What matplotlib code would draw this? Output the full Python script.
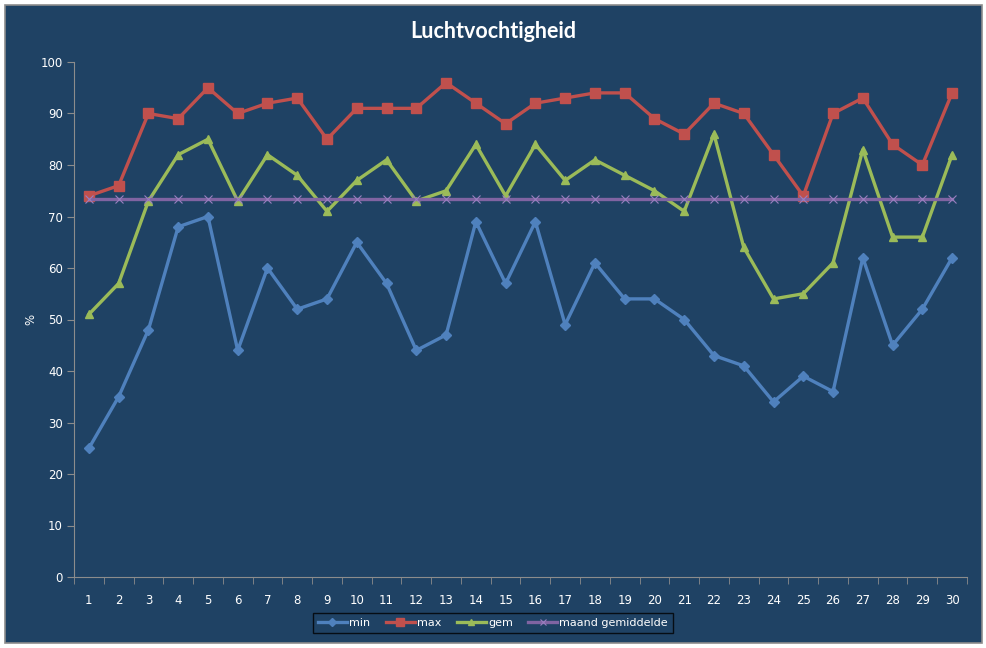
import numpy as np
import matplotlib
matplotlib.use("Agg")
import matplotlib.pyplot as plt
from matplotlib.patches import Rectangle

# data (relative humidity per day)
days = list(range(1, 31))
hum_min = [25, 35, 48, 68, 70, 44, 60, 52, 54, 65, 57, 44, 47, 69, 57,
           69, 49, 61, 54, 54, 50, 43, 41, 34, 39, 36, 62, 45, 52, 62]
hum_max = [74, 76, 90, 89, 95, 90, 92, 93, 85, 91, 91, 91, 96, 92, 88,
           92, 93, 94, 94, 89, 86, 92, 90, 82, 74, 90, 93, 84, 80, 94]
hum_gem = [51, 57, 73, 82, 85, 73, 82, 78, 71, 77, 81, 73, 75, 84, 74,
           84, 77, 81, 78, 75, 71, 86, 64, 54, 55, 61, 83, 66, 66, 82]
maand_gem = [73.4] * 30

bg = "#1F4264"
fig = plt.figure(figsize=(9.87, 6.48), dpi=100)
fig.patch.set_facecolor("white")
fig.patches.append(Rectangle((5 / 987, 1 - 643 / 648), 977 / 987, 638 / 648,
                             transform=fig.transFigure, facecolor=bg,
                             edgecolor="#8C8C8C", linewidth=1.2, zorder=-10))

ax = fig.add_axes([74 / 987, 1 - 577 / 648, 893 / 987, 515 / 648])
ax.set_facecolor("none")

ax.plot(days, hum_min, color="#4F81BD", lw=2.4, marker="D", ms=5, label="min")
ax.plot(days, hum_max, color="#C0504D", lw=2.4, marker="s", ms=6.5, label="max")
ax.plot(days, hum_gem, color="#9BBB59", lw=2.4, marker="^", ms=6, label="gem")
ax.plot(days, maand_gem, color="#8064A2", lw=2.4, marker="x", ms=6,
        mew=0.8, mec="#9A7FC0", label="maand gemiddelde")

ax.set_xlim(0.5, 30.5)
ax.set_ylim(0, 100)
ax.set_yticks(range(0, 101, 10))
ax.set_xticks(days)
ax.set_xticks(np.arange(0.5, 31, 1), minor=True)
ax.tick_params(axis="x", which="major", length=0, pad=12, colors="white", labelsize=8.5)
ax.tick_params(axis="x", which="minor", length=5, direction="out", color="#8C8C8C")
ax.tick_params(axis="y", length=5, direction="out", color="#8C8C8C",
               labelcolor="white", labelsize=8.5, pad=3)
for s in ["top", "right"]:
    ax.spines[s].set_visible(False)
for s in ["left", "bottom"]:
    ax.spines[s].set_color("#8C8C8C")

ax.set_ylabel("%", color="white", fontsize=8.5, labelpad=2)

fig.text(493 / 987, 1 - 31 / 648, "Luchtvochtigheid", color="white", fontsize=15.5,
         fontweight="bold", family="Lato", ha="center", va="center")

leg = ax.legend(loc="center", bbox_to_anchor=(493 / 987, 1 - 623 / 648),
                bbox_transform=fig.transFigure, ncol=4, frameon=True,
                fontsize=8, handlelength=2.6, columnspacing=1.4,
                handletextpad=0.2, borderpad=0.45, fancybox=False, markerscale=0.8)
leg.get_frame().set_facecolor(bg)
leg.get_frame().set_edgecolor("black")
leg.get_frame().set_linewidth(1.0)
for t in leg.get_texts():
    t.set_color("white")

fig.savefig("out.png", dpi=100, facecolor=fig.get_facecolor())
